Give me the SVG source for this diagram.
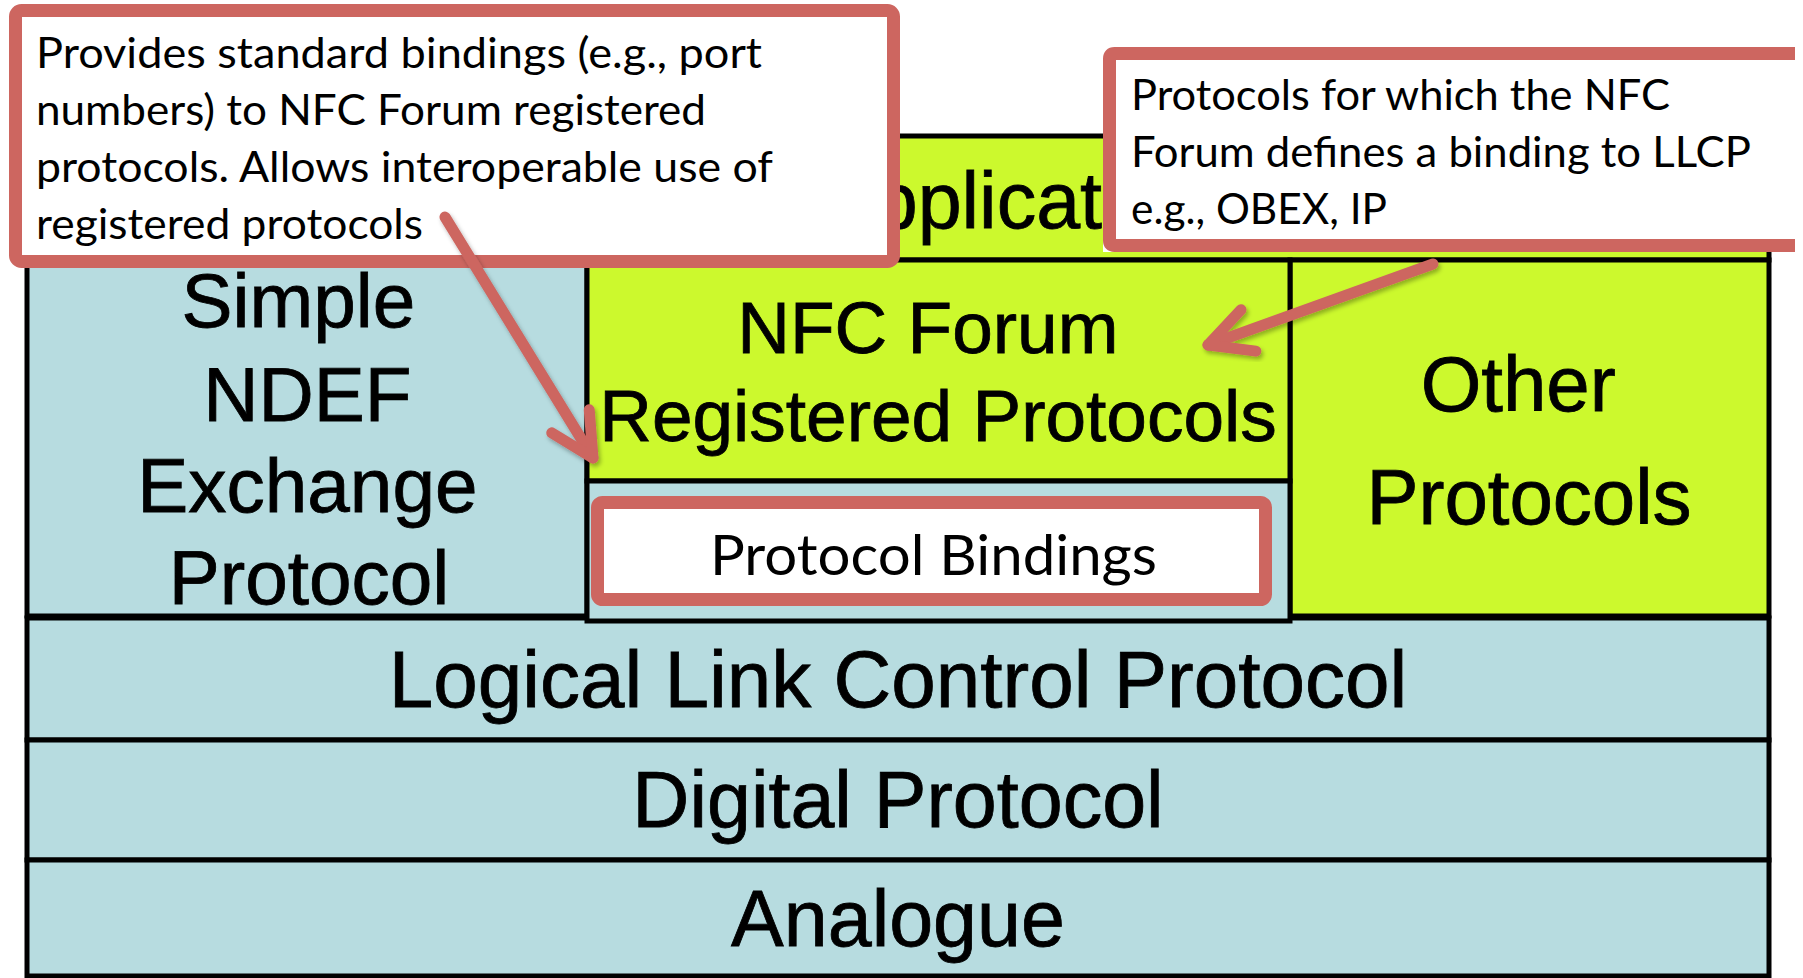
<svg xmlns="http://www.w3.org/2000/svg" width="1803" height="978" viewBox="0 0 1803 978">
  <style>
    .lime { fill: #CCF92D; stroke: #000; stroke-width: 5; }
    .blue { fill: #B7DCE0; stroke: #000; stroke-width: 5; }
    .stack { font-family: "Liberation Sans", Arial, sans-serif; fill: #000; stroke: #000; stroke-width: 0.8; text-anchor: middle; }
    .note { font-family: Lato, "Open Sans", sans-serif; font-size: 42px; fill: #000; }
    .callout { fill: #FFFFFF; stroke: #CD6660; stroke-width: 13; }
    .arrow { fill: none; stroke: #CD6660; stroke-width: 11; stroke-linecap: round; filter: url(#shadow); }
  </style>
  <defs>
    <filter id="shadow" x="-20%" y="-20%" width="140%" height="140%">
      <feDropShadow dx="2" dy="3" stdDeviation="2" flood-color="#000" flood-opacity="0.3"/>
    </filter>
    <marker id="openHead" markerUnits="userSpaceOnUse" orient="auto" refX="0" refY="0" markerWidth="1" markerHeight="1" overflow="visible">
      <path d="M-43,-22 L0,0 L-43,22" fill="none" stroke="#CD6660" stroke-width="11" stroke-linecap="round" stroke-linejoin="round"/>
    </marker>
  </defs>

  <rect x="0" y="0" width="1803" height="978" fill="#FFFFFF"/>

  <!-- protocol stack -->
  <g id="applications">
    <rect class="lime" x="27" y="136" width="1742" height="124"/>
    <text class="stack" x="821" y="228" font-size="79" style="text-anchor:start">Applicat</text>
  </g>
  <g id="llcp">
    <rect class="blue" x="27" y="618" width="1742" height="122"/>
    <text class="stack" x="898" y="707" font-size="80">Logical Link Control Protocol</text>
  </g>
  <g id="digital">
    <rect class="blue" x="27" y="740" width="1742" height="120"/>
    <text class="stack" x="898" y="827" font-size="79">Digital Protocol</text>
  </g>
  <g id="analogue">
    <rect class="blue" x="27" y="860" width="1742" height="116"/>
    <text class="stack" x="898" y="946" font-size="79">Analogue</text>
  </g>
  <g id="sndep">
    <rect class="blue" x="27" y="260" width="560" height="356"/>
    <text class="stack" x="309" font-size="76.5">
      <tspan x="309" y="327">Simple</tspan>
      <tspan x="318" y="421">NDEF</tspan>
      <tspan x="318" y="512">Exchange</tspan>
      <tspan x="309" y="604">Protocol</tspan>
    </text>
  </g>
  <g id="other-protocols">
    <rect class="lime" x="1290" y="260" width="479" height="356"/>
    <text class="stack" x="1529" font-size="78">
      <tspan x="1529" y="411">Other</tspan>
      <tspan x="1529" y="524">Protocols</tspan>
    </text>
  </g>
  <g id="nfc-registered">
    <rect class="lime" x="587" y="260" width="703" height="221"/>
    <text class="stack" x="938" font-size="73">
      <tspan x="938" y="353">NFC Forum</tspan>
      <tspan x="938" y="441">Registered Protocols</tspan>
    </text>
  </g>
  <g id="protocol-bindings">
    <rect class="blue" x="587" y="481" width="703" height="140"/>
    <rect class="callout" x="597.5" y="502.5" width="668" height="97" rx="5"/>
    <text class="note" x="710" y="575" style="font-size:56px" textLength="447" lengthAdjust="spacingAndGlyphs">Protocol Bindings</text>
  </g>

  <!-- callouts -->
  <g id="callout-bindings">
    <rect class="callout" x="15.5" y="10.5" width="878" height="251" rx="6"/>
    <text class="note" x="36" y="68" textLength="726" lengthAdjust="spacingAndGlyphs">Provides standard bindings (e.g., port</text>
    <text class="note" x="36" y="125" textLength="670" lengthAdjust="spacingAndGlyphs">numbers) to NFC Forum registered</text>
    <text class="note" x="36" y="182" textLength="737" lengthAdjust="spacingAndGlyphs">protocols. Allows interoperable use of</text>
    <text class="note" x="36" y="239" textLength="387" lengthAdjust="spacingAndGlyphs">registered protocols</text>
  </g>
  <g id="callout-registered">
    <rect x="1103" y="47" width="692" height="205" fill="#FFFFFF"/>
    <path d="M1795,53.5 H1114.5 Q1109.5,53.5 1109.5,58.5 V240.5 Q1109.5,245.5 1114.5,245.5 H1795" fill="none" stroke="#CD6660" stroke-width="13"/>
    <text class="note" x="1131" y="110" textLength="539" lengthAdjust="spacingAndGlyphs">Protocols for which the NFC</text>
    <text class="note" x="1131" y="167" textLength="620" lengthAdjust="spacingAndGlyphs">Forum defines a binding to LLCP</text>
    <text class="note" x="1131" y="224" textLength="256" lengthAdjust="spacingAndGlyphs">e.g., OBEX, IP</text>
  </g>

  <!-- connectors -->
  <g id="connectors">
    <path class="arrow" d="M445,217 L593,458" marker-end="url(#openHead)"/>
    <path class="arrow" d="M1433,264 L1208,345" marker-end="url(#openHead)"/>
  </g>
</svg>
